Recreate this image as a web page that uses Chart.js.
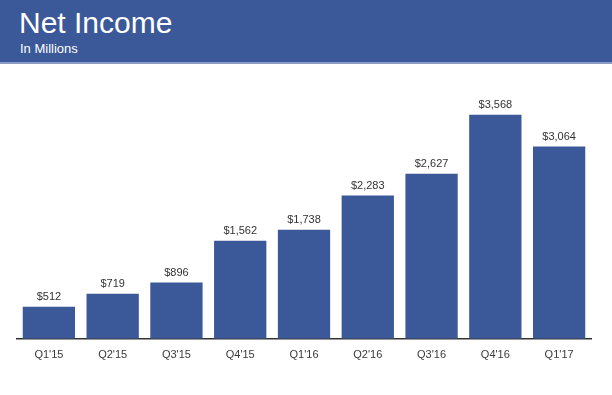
<!DOCTYPE html>
<html lang="en">
<head>
    <meta charset="UTF-8">
    <title>Net Income</title>
    <style>
        body {
            margin: 0;
            width: 612px;
            height: 395px;
            background: #ffffff;
            font-family: "Liberation Sans", Arial, sans-serif;
            overflow: hidden;
            position: relative;
        }
        .header {
            position: absolute;
            left: 0;
            top: 0;
            width: 612px;
            height: 62px;
            background-color: #3b5998;
            border-bottom: 2px solid #8a9cc4;
        }
        .header h1 {
            position: absolute;
            left: 19px;
            top: 6px;
            margin: 0;
            color: #ffffff;
            font-weight: normal;
            font-size: 30px;
        }
        .header .sub {
            position: absolute;
            left: 20px;
            top: 41px;
            color: #ffffff;
            font-size: 13px;
        }
        .chart-box {
            position: absolute;
            left: 0;
            top: 64px;
            width: 612px;
            height: 331px;
        }
    </style>
    <script src="https://cdn.jsdelivr.net/npm/chart.js"></script>
</head>
<body>
    <div class="header">
        <h1>Net Income</h1>
        <div class="sub">In Millions</div>
    </div>
    <div class="chart-box">
        <canvas id="incomeChart"></canvas>
    </div>

    <script>
        const quarters = ["Q1'15", "Q2'15", "Q3'15", "Q4'15", "Q1'16", "Q2'16", "Q3'16", "Q4'16", "Q1'17"];
        const netIncome = [512, 719, 896, 1562, 1738, 2283, 2627, 3568, 3064];

        // draws "$1,234" above each bar
        const valueLabels = {
            id: 'valueLabels',
            afterDatasetsDraw(chart) {
                const ctx = chart.ctx;
                const meta = chart.getDatasetMeta(0);
                ctx.save();
                ctx.font = '11px "Liberation Sans", Arial, sans-serif';
                ctx.fillStyle = '#333333';
                ctx.textAlign = 'center';
                ctx.textBaseline = 'bottom';
                meta.data.forEach((bar, i) => {
                    ctx.fillText('$' + netIncome[i].toLocaleString('en-US'), bar.x, bar.y - 4);
                });
                ctx.restore();
            }
        };

        new Chart(document.getElementById('incomeChart'), {
            type: 'bar',
            data: {
                labels: quarters,
                datasets: [{
                    data: netIncome,
                    backgroundColor: '#3b5998',
                    barPercentage: 0.82,
                    categoryPercentage: 1.0
                }]
            },
            options: {
                responsive: true,
                maintainAspectRatio: false,
                animation: false,
                layout: {
                    padding: { left: 17, right: 21, top: 23, bottom: 31 }
                },
                plugins: {
                    legend: { display: false },
                    tooltip: { enabled: false }
                },
                scales: {
                    x: {
                        grid: { display: false },
                        border: { display: true, color: '#333333', width: 1.5 },
                        ticks: {
                            color: '#3a3a3a',
                            padding: 2,
                            font: { family: '"Liberation Sans", Arial, sans-serif', size: 11 }
                        }
                    },
                    y: {
                        display: false,
                        min: 0,
                        max: 4010
                    }
                }
            },
            plugins: [valueLabels]
        });
    </script>
</body>
</html>
